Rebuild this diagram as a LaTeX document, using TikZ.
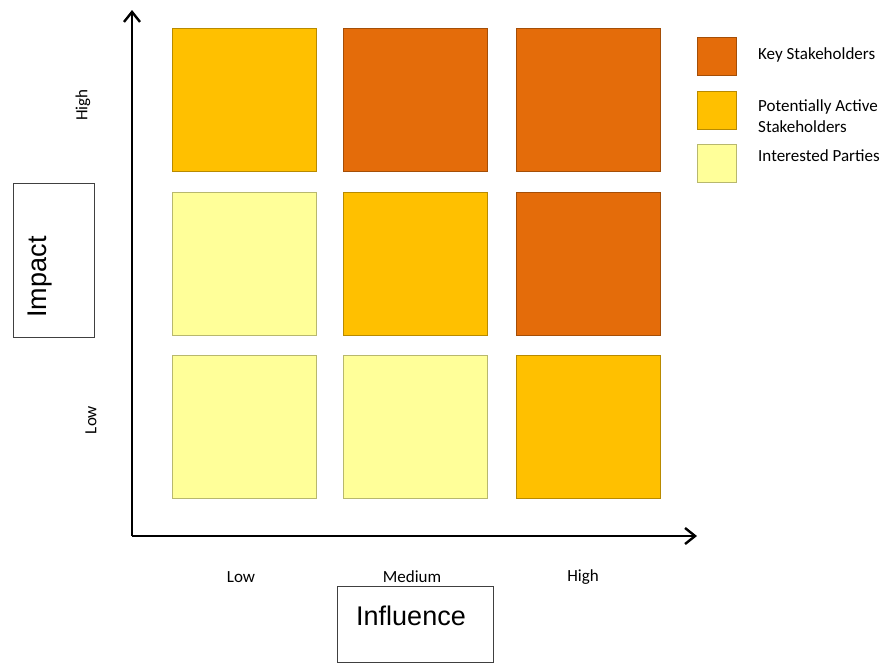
\documentclass[tikz,border=0pt]{standalone}
\usepackage{fontspec}
\setmainfont{Carlito}
\newfontfamily\titlefont{Liberation Sans}
\usetikzlibrary{arrows.meta}

\definecolor{keycol}{HTML}{E46C0A}
\definecolor{activecol}{HTML}{FFC000}
\definecolor{partycol}{HTML}{FFFF99}

\tikzset{
  cell/.style={draw=#1!72!black, fill=#1, line width=0.8pt, inner sep=0pt,
    minimum width=144pt, minimum height=143pt},
  legendbox/.style={draw=#1!72!black, fill=#1, line width=0.8pt, inner sep=0pt,
    minimum width=39pt, minimum height=38pt},
  smalltext/.style={font=\fontsize{17}{21}\selectfont, inner sep=0pt},
  bigtext/.style={font=\titlefont\fontsize{27}{30}\selectfont, inner sep=0pt},
  framebox/.style={draw=black!75, line width=1pt, inner sep=0pt}
}

\begin{document}
\begin{tikzpicture}[x=1pt, y=-1pt, >={Straight Barb[length=10pt, width=16pt]}]

    \useasboundingbox (0,0) rectangle (892,664);

    % Define grid cells (impact rows, influence columns)
    \node[cell=activecol] (c11) at (244, 100) {};
    \node[cell=keycol] (c12) at (415.5, 100) {};
    \node[cell=keycol] (c13) at (588, 100) {};
    \node[cell=partycol] (c21) at (244, 263.5) {};
    \node[cell=activecol] (c22) at (415.5, 263.5) {};
    \node[cell=keycol] (c23) at (588, 263.5) {};
    \node[cell=partycol] (c31) at (244, 426.5) {};
    \node[cell=partycol] (c32) at (415.5, 426.5) {};
    \node[cell=activecol] (c33) at (588, 426.5) {};

    % Axes
    \coordinate (origin) at (132, 536);
    \coordinate (ytip) at (132, 10);
    \coordinate (xtip) at (697, 536);
    \draw[->, line width=2.4pt] (origin) -- (ytip);
    \draw[->, line width=2.4pt] (origin) -- (xtip);

    % Impact labels
    \node[smalltext, rotate=90] (yhigh) at (83, 105) {High};
    \node[smalltext, rotate=90] (ylow) at (91, 420) {Low};
    \node[framebox, minimum width=81pt, minimum height=154pt] (impactbox) at (53.5, 260) {};
    \node[bigtext, rotate=90, anchor=base] (impact) at (46, 277) {Impact};

    % Influence labels
    \node[smalltext] (xlow) at (241, 577) {Low};
    \node[smalltext] (xmed) at (412, 577) {Medium};
    \node[smalltext] (xhigh) at (583, 577) {High};
    \node[framebox, minimum width=156pt, minimum height=76pt] (influencebox) at (415, 624) {};
    \node[bigtext, anchor=base] (influence) at (411, 625) {Influence};

    % Legend
    \node[legendbox=keycol] (lkey) at (716.5, 56) {};
    \node[legendbox=activecol] (lactive) at (716.5, 110) {};
    \node[legendbox=partycol] (lparty) at (716.5, 163) {};
    \node[smalltext, anchor=west] (tkey) at (758, 55) {Key Stakeholders};
    \node[smalltext, anchor=west, align=left] (tactive) at (758, 116) {Potentially Active\\Stakeholders};
    \node[smalltext, anchor=west] (tparty) at (758, 156) {Interested Parties};

\end{tikzpicture}
\end{document}
